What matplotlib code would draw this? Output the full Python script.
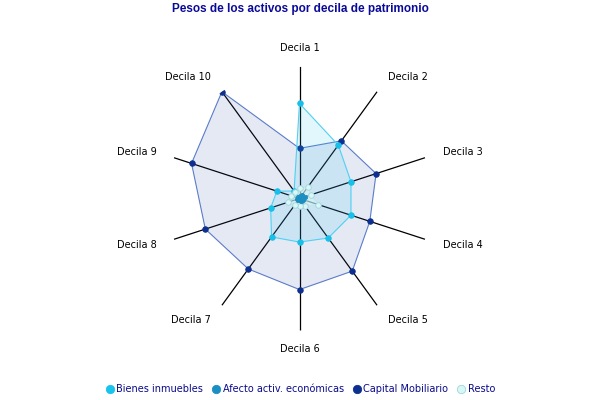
import numpy as np
import matplotlib.pyplot as plt
from matplotlib.lines import Line2D

# Data (scale 0-100 = spoke length)
deciles = ["Decila 1", "Decila 2", "Decila 3", "Decila 4", "Decila 5",
           "Decila 6", "Decila 7", "Decila 8", "Decila 9", "Decila 10"]
bienes_inmuebles = [72, 50, 41, 41, 37, 33, 36, 23, 18, 7]
afecto_activ = [2, 3, 4, 3, 2, 1.5, 1.5, 2, 1.5, 1.5]
capital_mobiliario = [38, 54, 61, 56, 68, 69, 66, 75, 86, 100]
resto = [8, 11, 9, 15, 7, 6, 6, 9, 7, 6]

series_names = ["Bienes inmuebles", "Afecto activ. económicas",
                "Capital Mobiliario", "Resto"]
title = "Pesos de los activos por decila de patrimonio"

W, H = 600, 400
cx, cy, R = 299.5, 198.5, 132.0
rmax = 100

fig = plt.figure(figsize=(W / 100, H / 100), dpi=100)
ax = fig.add_axes([(cx - R) / W, (H - cy - R) / H, 2 * R / W, 2 * R / H],
                  projection="polar")
ax.set_theta_zero_location("N")
ax.set_theta_direction(-1)
ax.set_ylim(0, rmax)
ax.grid(False)
ax.spines["polar"].set_visible(False)
ax.set_xticks([])
ax.set_yticks([])
ax.patch.set_alpha(0)

n = len(deciles)
theta = np.arange(n) * 2 * np.pi / n

# spokes
for t in theta:
    ax.plot([t, t], [0, rmax], color="black", lw=0.9, zorder=1)

# axis labels
for t, lab in zip(theta, deciles):
    s = np.sin(t)
    if abs(s) < 0.1:
        ha = "center"
    elif s > 0:
        ha = "left"
    else:
        ha = "right"
    ax.text(t, rmax * 1.14, lab, ha=ha, va="center", fontsize=7,
            color="black", clip_on=False)


def draw(vals, line_c, fill_c, fill_a, mk_face, mk_edge, z, ms=4):
    th = np.append(theta, theta[0])
    v = np.append(vals, vals[0])
    ax.fill(th, v, color=fill_c, alpha=fill_a, lw=0, zorder=z)
    ax.plot(th, v, color=line_c, lw=0.8, zorder=z + 0.1)
    ax.plot(theta, vals, ls="none", marker="o", ms=ms, mfc=mk_face,
            mec=mk_edge, mew=0.6, zorder=z + 0.2)


draw(capital_mobiliario, "#5b7cc9", "#2a4fa8", 0.12, "#0d2f8f", "#0d2f8f", 2)
draw(bienes_inmuebles, "#4fd0f2", "#33c8ee", 0.14, "#18bfe8", "#18bfe8", 3)
draw(resto, "#bfe9ec", "#d6f7f7", 0.6, "#d8f7f7", "#9fd4da", 4)
draw(afecto_activ, "#1b8ec2", "#1b8ec2", 0.6, "#1b8ec2", "#1b8ec2", 5, ms=3)

fig.text(0.5, 1 - 9 / H, title, ha="center", va="center", fontsize=8.5,
         fontweight="bold", color="#0a0a9a", family="Liberation Sans")

mk_colors = [("#18c3ec", "#18c3ec"), ("#1b8ec2", "#1b8ec2"),
             ("#0d2f8f", "#0d2f8f"), ("#d8f7f7", "#9fd4da")]
handles = [Line2D([], [], ls="none", marker="o", ms=6, mfc=f, mec=e, mew=0.6)
           for f, e in mk_colors]
leg = fig.legend(handles, series_names, loc="center",
                 bbox_to_anchor=(0.5, 1 - 389 / H), ncol=4, frameon=False,
                 fontsize=7, handletextpad=0.2, columnspacing=0.8,
                 handlelength=1.0, borderaxespad=0)
for txt in leg.get_texts():
    txt.set_color("#0a0a8a")

fig.savefig("out.png", dpi=100)
